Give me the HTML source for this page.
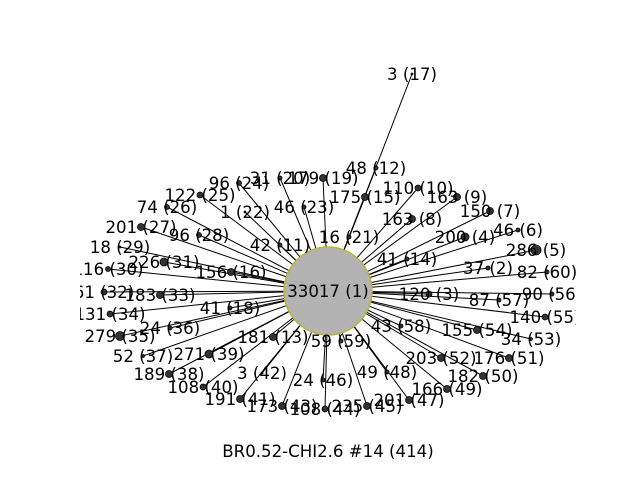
<!DOCTYPE html>
<html><head><meta charset="utf-8"><style>
body{margin:0;background:#fff;}
svg{display:block;font-family:"DejaVu Sans","Liberation Sans",sans-serif;}
</style></head><body>
<svg id="chart" width="640" height="480" viewBox="0 0 640 480">
<defs><clipPath id="ax"><rect x="80" y="58" width="496" height="370"/></clipPath></defs>
<g id="plot" clip-path="url(#ax)"></g>
<text x="328" y="457" text-anchor="middle" font-size="16.6">BR0.52-CHI2.6 #14 (414)</text>
</svg>
<script>
const labels = ["37 (2)","120 (3)","200 (4)","286 (5)","46 (6)","150 (7)","163 (8)","163 (9)","110 (10)","42 (11)","48 (12)","181 (13)","41 (14)","175 (15)","156 (16)","3 (17)","41 (18)","179 (19)","31 (20)","16 (21)","1 (22)","46 (23)","96 (24)","122 (25)","74 (26)","201 (27)","96 (28)","18 (29)","116 (30)","226 (31)","61 (32)","183 (33)","131 (34)","279 (35)","24 (36)","52 (37)","189 (38)","271 (39)","108 (40)","191 (41)","3 (42)","173 (43)","108 (44)","235 (45)","24 (46)","201 (47)","49 (48)","166 (49)","182 (50)","176 (51)","203 (52)","34 (53)","155 (54)","140 (55)","90 (56)","87 (57)","43 (58)","59 (59)","82 (60)"];
const nodeX = [488,429,465,536,518,490,412,457,418,280,376,273,407,365,231,412,230,323,280,349,245,304,239,200,167,141,199,120,108,164,104,160,110,120,170,143,169,209,203,240,262,282,325,367,323,409,387,447,483,509,441,531,477,545,552,499,401,341,547];
const nodeY = [268,294,237,250,230,211,219,197,188,245,168,337,259,197,272,74,308,178,178,237,212,207,183,195,207,227,235,247,269,262,292,295,314,336,328,356,374,354,387,399,373,406,409,406,380,400,372,389,376,358,358,339,330,317,294,300,326,341,272];
const nodeR = [2,3,4,5,2,3.5,3.5,3.5,3,2,2,3.5,2,3.5,3.5,1,2,3.5,2,2,1,2,2.5,3,2.5,3.5,2.5,1,2.5,4,3,3.5,3,4.5,2,1.5,3.5,4,3,3.5,1,3.5,3,3.5,2,3.5,2,3.5,3.5,3.5,3.5,1.5,3.5,3,2,2,2,2,2];
const hub = {x:328, y:291, r:44, label:"33017 (1)"};
const NS="http://www.w3.org/2000/svg";
const g=document.getElementById('plot');
function mk(t,a){const e=document.createElementNS(NS,t);for(const k in a)e.setAttribute(k,a[k]);return e;}
for(let i=0;i<labels.length;i++){
  const l=mk('line',{x1:hub.x,y1:hub.y,x2:nodeX[i],y2:nodeY[i],stroke:'#000','stroke-width':1});
  
  
  g.appendChild(l);
}
const h=mk('circle',{cx:hub.x,cy:hub.y,r:hub.r,fill:'#b3b3b3',stroke:'#b5b53a','stroke-width':1.5});


g.appendChild(h);
for(let i=0;i<labels.length;i++){
  const c=mk('circle',{cx:nodeX[i],cy:nodeY[i],r:nodeR[i],fill:'#333',stroke:'#000','stroke-width':0.8});
  
  
  g.appendChild(c);
}
function lab(x,y,s,n){
  const t=mk('text',{x:x,y:y+6,'text-anchor':'middle','font-size':16.6,fill:'#000'});
  t.textContent=s;
  
  
  g.appendChild(t);
}
lab(hub.x,hub.y,hub.label,'hub-label');
for(let i=0;i<labels.length;i++) lab(nodeX[i],nodeY[i],labels[i],'node-label');
</script>
</body></html>
